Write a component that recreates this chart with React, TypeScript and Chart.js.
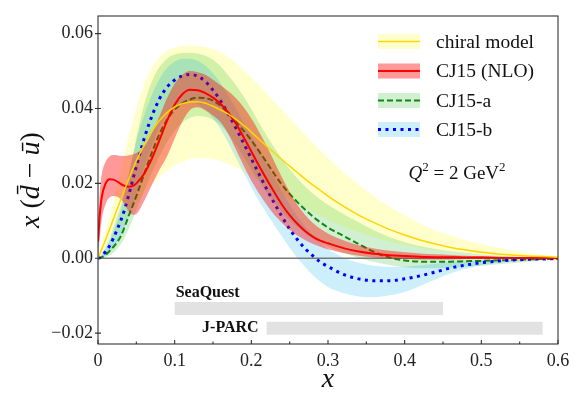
import React, { useEffect, useRef } from 'react';
import { Chart, registerables } from 'chart.js';

Chart.register(...registerables);

// ---------- data ----------
const xGrid = [0, 0.0025, 0.005, 0.01, 0.015, 0.02, 0.025, 0.03, 0.035, 0.04, 0.045, 0.05, 0.06, 0.07, 0.08, 0.09, 0.10, 0.11, 0.12, 0.13, 0.14, 0.15, 0.16, 0.17, 0.18, 0.19, 0.20, 0.21, 0.22, 0.23, 0.24, 0.25, 0.26, 0.27, 0.28, 0.29, 0.30, 0.32, 0.34, 0.36, 0.38, 0.40, 0.42, 0.44, 0.46, 0.48, 0.50, 0.53, 0.56, 0.60];

const chiralMid = [0, 0.0012, 0.0025, 0.005, 0.0077, 0.0104, 0.0131, 0.0158, 0.0185, 0.0211, 0.0236, 0.026, 0.0302, 0.0338, 0.0367, 0.0389, 0.0404, 0.0413, 0.0417, 0.0418, 0.0414, 0.0406, 0.0396, 0.0385, 0.0371, 0.0355, 0.0337, 0.0318, 0.0299, 0.0281, 0.0263, 0.0246, 0.0229, 0.0212, 0.0196, 0.0181, 0.0166, 0.0139, 0.0115, 0.0095, 0.0077, 0.0062, 0.0049, 0.0038, 0.0029, 0.0022, 0.0016, 0.001, 0.0006, 0.0003];
const chiralHi = [0, 0.0017, 0.0035, 0.0072, 0.011, 0.015, 0.0192, 0.0236, 0.0282, 0.0325, 0.0365, 0.0402, 0.0463, 0.0508, 0.0537, 0.0554, 0.0563, 0.0567, 0.0568, 0.0567, 0.0564, 0.0558, 0.0549, 0.0537, 0.0521, 0.0503, 0.0483, 0.0462, 0.044, 0.0418, 0.0396, 0.0374, 0.0352, 0.033, 0.0309, 0.0288, 0.0268, 0.023, 0.0196, 0.0165, 0.0138, 0.0114, 0.0093, 0.0075, 0.006, 0.0048, 0.0038, 0.0025, 0.0015, 0.0006];
const chiralLo = [0, 0.0006, 0.0013, 0.0027, 0.0042, 0.0057, 0.0072, 0.0087, 0.0102, 0.0117, 0.0132, 0.0146, 0.0172, 0.0196, 0.0217, 0.0234, 0.0248, 0.0258, 0.0265, 0.0268, 0.0268, 0.0265, 0.026, 0.0252, 0.0243, 0.0232, 0.022, 0.0208, 0.0196, 0.0183, 0.0171, 0.0159, 0.0147, 0.0135, 0.0124, 0.0113, 0.0103, 0.0085, 0.0069, 0.0056, 0.0045, 0.0036, 0.0028, 0.0022, 0.0017, 0.0013, 0.001, 0.0006, 0.0003, 0.0001];

const cj15Mid = [0.0045, 0.012, 0.0165, 0.02, 0.0211, 0.021, 0.0205, 0.0198, 0.0193, 0.0191, 0.0193, 0.02, 0.0225, 0.0265, 0.0315, 0.0367, 0.041, 0.0438, 0.045, 0.0449, 0.0441, 0.0429, 0.0412, 0.0389, 0.0359, 0.0323, 0.0285, 0.0247, 0.0211, 0.0176, 0.0143, 0.0115, 0.0092, 0.0073, 0.0058, 0.0047, 0.004, 0.0027, 0.0018, 0.0012, 0.0008, 0.0006, 0.0004, 0.0003, 0.0003, 0.0002, 0.0002, 0.0001, 0.0001, 0];
const cj15Hi = [0.009, 0.018, 0.0225, 0.0258, 0.0272, 0.0276, 0.0275, 0.0273, 0.0273, 0.0275, 0.0277, 0.0281, 0.0298, 0.0333, 0.0378, 0.0427, 0.0466, 0.049, 0.05, 0.0497, 0.049, 0.0477, 0.0462, 0.0446, 0.0427, 0.0403, 0.0373, 0.0338, 0.03, 0.0258, 0.0216, 0.0177, 0.0143, 0.0116, 0.0095, 0.0079, 0.0066, 0.0048, 0.0035, 0.0026, 0.002, 0.0016, 0.0013, 0.0011, 0.0009, 0.0007, 0.0006, 0.0004, 0.0003, 0.0001];
const cj15Lo = [0, 0.006, 0.0105, 0.0145, 0.0162, 0.0166, 0.0164, 0.0157, 0.0143, 0.0125, 0.0116, 0.0118, 0.0152, 0.0195, 0.0236, 0.0272, 0.032, 0.0365, 0.0396, 0.0403, 0.0395, 0.0381, 0.0363, 0.0332, 0.029, 0.0247, 0.0207, 0.0173, 0.0143, 0.0116, 0.0094, 0.0076, 0.0061, 0.0049, 0.0039, 0.0031, 0.0024, 0.0014, 0.0007, 0.0002, -0.0001, -0.0002, -0.0003, -0.0003, -0.0003, -0.0002, -0.0002, -0.0001, -0.0001, 0];

const cj15aMid = [0, 0.0001, 0.0003, 0.0009, 0.0019, 0.003, 0.0043, 0.006, 0.0085, 0.0113, 0.0139, 0.0166, 0.0224, 0.0281, 0.0331, 0.037, 0.0397, 0.0414, 0.0424, 0.0429, 0.0428, 0.0421, 0.0407, 0.0387, 0.0364, 0.034, 0.0315, 0.0286, 0.0256, 0.0225, 0.0196, 0.0172, 0.015, 0.013, 0.0112, 0.0096, 0.0082, 0.006, 0.0038, 0.0017, 0.0002, -0.0006, -0.0009, -0.0009, -0.0009, -0.0008, -0.0007, -0.0005, -0.0003, -0.0001];
const cj15aHi = [0, 0.0003, 0.0008, 0.0025, 0.0045, 0.007, 0.0098, 0.013, 0.0172, 0.022, 0.027, 0.032, 0.041, 0.047, 0.051, 0.0533, 0.0544, 0.0548, 0.0549, 0.0547, 0.0541, 0.053, 0.0512, 0.0488, 0.0462, 0.0432, 0.0398, 0.0362, 0.0328, 0.0295, 0.0265, 0.0238, 0.0214, 0.0192, 0.0173, 0.0157, 0.0143, 0.0118, 0.0096, 0.0075, 0.0057, 0.0043, 0.0033, 0.0025, 0.0019, 0.0014, 0.001, 0.0006, 0.0003, 0.0001];
const cj15aLo = [0, 0, 0.0001, 0.0003, 0.0008, 0.0015, 0.0025, 0.0038, 0.0056, 0.0078, 0.0102, 0.0128, 0.0178, 0.0228, 0.0272, 0.031, 0.034, 0.0362, 0.0375, 0.038, 0.0378, 0.037, 0.0355, 0.0332, 0.0303, 0.027, 0.0237, 0.0205, 0.0175, 0.0148, 0.0123, 0.0102, 0.0083, 0.0067, 0.0053, 0.0041, 0.0031, 0.0014, 0.0001, -0.001, -0.0018, -0.0024, -0.0027, -0.0027, -0.0025, -0.0023, -0.002, -0.0015, -0.0009, -0.0002];

const cj15bMid = [0, 0.0002, 0.0007, 0.0018, 0.0033, 0.0053, 0.0077, 0.0102, 0.0132, 0.0168, 0.0207, 0.0245, 0.0318, 0.0378, 0.0425, 0.0457, 0.0476, 0.0487, 0.0491, 0.0486, 0.0472, 0.0449, 0.042, 0.0385, 0.0347, 0.0307, 0.0266, 0.0225, 0.0185, 0.0147, 0.0111, 0.0078, 0.005, 0.0026, 0.0007, -0.001, -0.0022, -0.0043, -0.0055, -0.006, -0.006, -0.0055, -0.0047, -0.0037, -0.0026, -0.0018, -0.0012, -0.0006, -0.0003, -0.0001];
const cj15bHi = [0, 0.0004, 0.0012, 0.003, 0.0053, 0.0082, 0.0112, 0.0145, 0.0182, 0.0225, 0.027, 0.0315, 0.038, 0.0435, 0.0478, 0.0508, 0.0525, 0.0533, 0.0533, 0.0527, 0.0514, 0.0494, 0.0467, 0.0435, 0.04, 0.0363, 0.0326, 0.0289, 0.0252, 0.0215, 0.0178, 0.0143, 0.0112, 0.0085, 0.0062, 0.0042, 0.0025, 0.0002, -0.0012, -0.002, -0.0023, -0.0022, -0.0019, -0.0015, -0.0011, -0.0008, -0.0005, -0.0003, -0.0001, 0];
const cj15bLo = [0, 0, 0.0002, 0.0007, 0.0015, 0.0028, 0.0045, 0.0063, 0.0085, 0.011, 0.014, 0.0172, 0.024, 0.03, 0.035, 0.0385, 0.0405, 0.0415, 0.0418, 0.0412, 0.0397, 0.0374, 0.0344, 0.0308, 0.0268, 0.0228, 0.0189, 0.0152, 0.012, 0.0088, 0.0058, 0.0028, 0.0001, -0.0023, -0.0045, -0.0063, -0.0077, -0.0093, -0.0102, -0.0104, -0.0099, -0.009, -0.0074, -0.0057, -0.004, -0.0028, -0.0019, -0.0011, -0.0006, -0.0002];

const zeroX = [0, 0.6];
const zeroY = [0, 0];

const experiments = ['SeaQuest', 'J-PARC'];
const expStart = [0.1, 0.22];
const expEnd = [0.45, 0.58];
const expY = [-0.0134, -0.0187];

const xTicks = [0, 0.1, 0.2, 0.3, 0.4, 0.5, 0.6];
const xTickLabels = ['0', '0.1', '0.2', '0.3', '0.4', '0.5', '0.6'];
const xMinorTicks = [0.05, 0.15, 0.25, 0.35, 0.45, 0.55];
const yTicks = [-0.02, 0, 0.02, 0.04, 0.06];
const yTickLabels = ['\u22120.02', '0.00', '0.02', '0.04', '0.06'];

const legendLabels = ['chiral model', 'CJ15 (NLO)', 'CJ15-a', 'CJ15-b'];

// ---------- styles ----------
const FONT = "'Liberation Serif', 'Times New Roman', serif";
const C = {
  chiralLine: '#ffd500',
  chiralBand: 'rgba(255,255,0,0.2)',
  cjLine: '#ff0000',
  cjBand: 'rgba(255,0,0,0.4)',
  aLine: '#118811',
  aBand: 'rgba(0,170,0,0.18)',
  bLine: '#0000ff',
  bBand: 'rgba(0,175,235,0.2)',
};

const pts = (ys: number[]) => xGrid.map((x, i) => ({ x, y: ys[i] }));

function bandSets(hi: number[], lo: number[], color: string, order: number) {
  return [
    { data: pts(hi), borderWidth: 0, borderColor: 'transparent', pointRadius: 0, fill: '+1', backgroundColor: color, order },
    { data: pts(lo), borderWidth: 0, borderColor: 'transparent', pointRadius: 0, fill: false, order },
  ];
}

function lineSet(ys: number[], color: string, width: number, order: number, dash: number[] = []) {
  return { data: pts(ys), borderColor: color, borderWidth: width, pointRadius: 0, fill: false, borderDash: dash, borderCapStyle: 'butt', order };
}

type Part = { t: string; f: string; sup?: boolean };
function drawParts(ctx: CanvasRenderingContext2D, parts: Part[], x: number, y: number, align: 'left' | 'center' | 'right') {
  let total = 0;
  for (const p of parts) { ctx.font = p.f; total += ctx.measureText(p.t).width; }
  let cx = align === 'left' ? x : align === 'center' ? x - total / 2 : x - total;
  ctx.textAlign = 'left';
  ctx.textBaseline = 'alphabetic';
  for (const p of parts) {
    ctx.font = p.f;
    ctx.fillText(p.t, cx, p.sup ? y - 8 : y);
    cx += ctx.measureText(p.t).width;
  }
}

const decorPlugin = {
  id: 'decor',
  afterDraw(chart: any) {
    const ctx: CanvasRenderingContext2D = chart.ctx;
    const { left, right, top, bottom } = chart.chartArea;
    const xs = chart.scales.x;
    const ys = chart.scales.y;
    ctx.save();
    // frame
    ctx.strokeStyle = '#333';
    ctx.lineWidth = 1.1;
    ctx.strokeRect(left, top, right - left, bottom - top);
    // ticks
    ctx.beginPath();
    for (const v of xTicks) { const p = xs.getPixelForValue(v); ctx.moveTo(p, bottom); ctx.lineTo(p, bottom - 4); }
    for (const v of xMinorTicks) { const p = xs.getPixelForValue(v); ctx.moveTo(p, bottom); ctx.lineTo(p, bottom - 2.5); }
    for (const v of yTicks) { const p = ys.getPixelForValue(v); ctx.moveTo(left - 3, p); ctx.lineTo(left + 3, p); }
    ctx.stroke();

    // experiment labels
    ctx.fillStyle = '#111';
    ctx.font = `bold 16px ${FONT}`;
    ctx.textBaseline = 'middle';
    ctx.textAlign = 'left';
    ctx.fillText(experiments[0], xs.getPixelForValue(expStart[0]) + 1, ys.getPixelForValue(expY[0]) - 16);
    ctx.textAlign = 'right';
    ctx.fillText(experiments[1], xs.getPixelForValue(expStart[1]) - 8, ys.getPixelForValue(expY[1]));

    // legend
    const lx = 378, lw = 42, lh = 15, tx = 436;
    const rows = [41.5, 71, 100.5, 129.5];
    const bands = [C.chiralBand, C.cjBand, C.aBand, C.bBand];
    const lines = [C.chiralLine, C.cjLine, C.aLine, C.bLine];
    const widths = [1.5, 2, 2, 3];
    const dashes = [[], [], [6, 3], [3, 4.5]];
    for (let i = 0; i < 4; i++) {
      const cy = rows[i];
      ctx.fillStyle = bands[i];
      ctx.fillRect(lx, cy - lh / 2, lw, lh);
      ctx.strokeStyle = lines[i];
      ctx.lineWidth = widths[i];
      ctx.setLineDash(dashes[i]);
      ctx.lineCap = 'butt';
      ctx.beginPath();
      ctx.moveTo(lx, cy);
      ctx.lineTo(lx + lw, cy);
      ctx.stroke();
      ctx.setLineDash([]);
      ctx.fillStyle = '#111';
      ctx.font = `19.5px ${FONT}`;
      ctx.textAlign = 'left';
      ctx.textBaseline = 'middle';
      ctx.fillText(legendLabels[i], tx, cy + 1);
    }

    // Q^2 annotation
    ctx.fillStyle = '#111';
    drawParts(ctx, [
      { t: 'Q', f: `italic 19px ${FONT}` },
      { t: '2', f: `13px ${FONT}`, sup: true },
      { t: ' = 2 GeV', f: `19px ${FONT}` },
      { t: '2', f: `13px ${FONT}`, sup: true },
    ], 457, 179, 'center');

    // axis titles
    drawParts(ctx, [{ t: 'x', f: `italic 28px ${FONT}` }], (left + right) / 2, 387, 'center');
    ctx.save();
    ctx.translate(39, (top + bottom) / 2);
    ctx.rotate(-Math.PI / 2);
    drawParts(ctx, [
      { t: 'x', f: `italic 28px ${FONT}` },
      { t: ' (', f: `28px ${FONT}` },
      { t: 'd\u0304', f: `italic 28px ${FONT}` },
      { t: ' \u2212 ', f: `28px ${FONT}` },
      { t: 'u\u0304', f: `italic 28px ${FONT}` },
      { t: ')', f: `28px ${FONT}` },
    ], 0, 0, 'center');
    ctx.restore();
    ctx.restore();
  },
};

export default function App() {
  const ref = useRef<HTMLCanvasElement>(null);
  useEffect(() => {
    const canvas = ref.current!;
    const datasets: any[] = [
      ...bandSets(chiralHi, chiralLo, C.chiralBand, 20),
      ...bandSets(cj15aHi, cj15aLo, C.aBand, 19),
      ...bandSets(cj15bHi, cj15bLo, C.bBand, 18),
      { data: zeroX.map((x, i) => ({ x, y: zeroY[i] })), borderColor: '#7a7a7a', borderWidth: 1.5, pointRadius: 0, fill: false, order: 17 },
      ...experiments.map((_, i) => ({
        data: [{ x: expStart[i], y: expY[i] }, { x: expEnd[i], y: expY[i] }],
        borderColor: '#e2e2e2', borderWidth: 13, borderCapStyle: 'butt', pointRadius: 0, fill: false, order: 16,
      })),
      lineSet(cj15aMid, C.aLine, 2, 15, [6, 3]),
      lineSet(cj15bMid, C.bLine, 3, 14, [3, 4.5]),
      ...bandSets(cj15Hi, cj15Lo, C.cjBand, 13),
      lineSet(cj15Mid, C.cjLine, 2, 12),
      lineSet(chiralMid, C.chiralLine, 1.5, 11),
    ];
    const chart = new Chart(canvas, {
      type: 'line',
      data: { datasets },
      options: {
        animation: false,
        responsive: false,
        maintainAspectRatio: false,
        layout: { padding: { top: 16, right: 23, left: 0, bottom: 0 } },
        elements: { line: { cubicInterpolationMode: 'monotone' } },
        plugins: { legend: { display: false }, tooltip: { enabled: false } },
        scales: {
          x: {
            type: 'linear', min: 0, max: 0.6,
            grid: { display: false, drawTicks: false },
            border: { display: false },
            ticks: {
              autoSkip: false, maxRotation: 0, padding: 6, color: '#222',
              font: { family: FONT, size: 18 },
              callback: (_v: any, i: number) => xTickLabels[i],
            },
            afterBuildTicks: (s: any) => { s.ticks = xTicks.map((v) => ({ value: v })); },
            afterFit: (s: any) => { s.height = 52; },
          },
          y: {
            type: 'linear', min: -0.0229, max: 0.0647,
            grid: { display: false, drawTicks: false },
            border: { display: false },
            ticks: {
              autoSkip: false, padding: 5, color: '#222',
              font: { family: FONT, size: 18 },
              callback: (_v: any, i: number) => yTickLabels[i],
            },
            afterBuildTicks: (s: any) => { s.ticks = yTicks.map((v) => ({ value: v })); },
            afterFit: (s: any) => { s.width = 98; },
          },
        },
      },
      plugins: [decorPlugin],
    } as any);
    return () => chart.destroy();
  }, []);
  return (
    <div style={{ position: 'fixed', left: 0, top: 0, width: 581, height: 396, background: '#fff' }}>
      <canvas ref={ref} width={581} height={396} style={{ display: 'block' }} />
    </div>
  );
}
